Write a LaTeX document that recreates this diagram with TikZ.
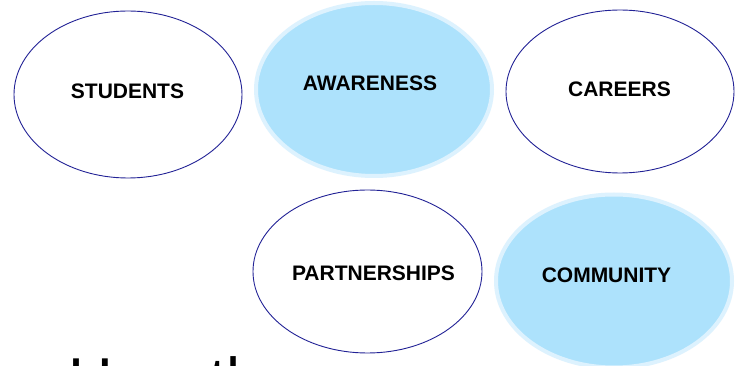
\documentclass[tikz,border=0pt]{standalone}
\usepackage{fontspec}
\setmainfont{Liberation Sans}
\usetikzlibrary{shapes.geometric}
\definecolor{rimnavy}{RGB}{34,34,150}
\definecolor{bubblefill}{RGB}{173,226,252}
\definecolor{bubblerim}{RGB}{221,242,254}
\tikzset{
  bubble/.style={ellipse, draw=rimnavy, line width=0.9pt, fill=white, inner sep=0pt},
  bluebubble/.style={ellipse, draw=bubblerim, line width=4pt, fill=bubblefill, inner sep=0pt},
  lbl/.style={font=\bfseries\fontsize{21}{25}\selectfont, text=black, inner sep=0pt},
  bigtext/.style={font=\fontsize{62}{70}\selectfont, text=black, inner sep=0pt, anchor=base west}
}
\begin{document}
\begin{tikzpicture}[x=1pt, y=-1pt]
\useasboundingbox (0,0) rectangle (740,366);
\clip (0,0) rectangle (740,366);
\fill[white] (0,0) rectangle (740,366);
% ellipses
\node[bubble, minimum width=228pt, minimum height=167pt] (studentsE) at (128,94.5) {};
\node[bluebubble, minimum width=236pt, minimum height=173pt] (awarenessE) at (374,89.5) {};
\node[bubble, minimum width=228pt, minimum height=163pt] (careersE) at (620,91.5) {};
\node[bubble, minimum width=229pt, minimum height=163pt] (partnershipsE) at (367.5,271.5) {};
\node[bluebubble, minimum width=236pt, minimum height=173pt] (communityE) at (614,281) {};
% labels
\node[lbl] (students) at (127.5,91) {STUDENTS};
\node[lbl] (awareness) at (370,83.5) {AWARENESS};
\node[lbl] (careers) at (619.5,89.5) {CAREERS};
\node[lbl] (partnerships) at (373.5,273.5) {PARTNERSHIPS};
\node[lbl] (community) at (606.5,275) {COMMUNITY};
% cropped heading
\node[bigtext] (heading) at (68,402) {How th};
\end{tikzpicture}
\end{document}
